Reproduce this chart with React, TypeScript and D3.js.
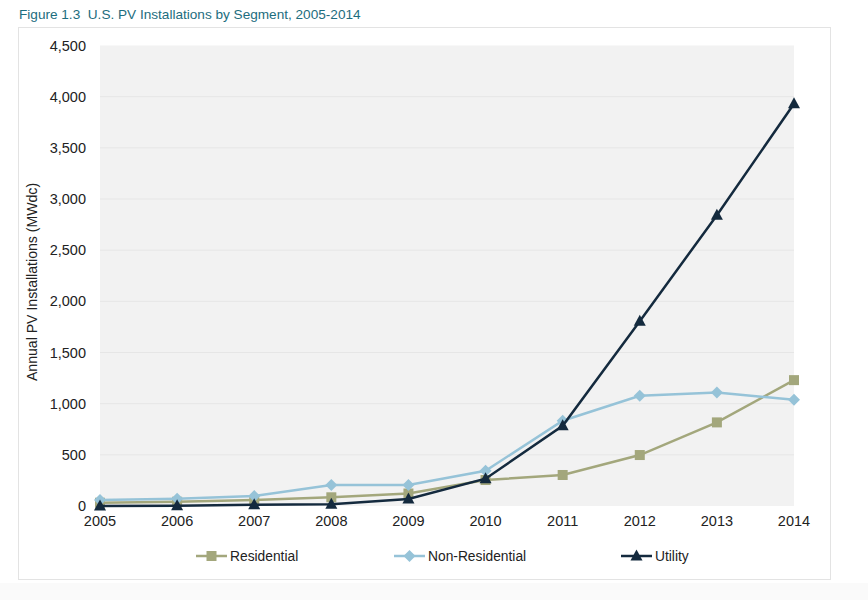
import React from "react";
import * as d3 from "d3";

const years = [2005, 2006, 2007, 2008, 2009, 2010, 2011, 2012, 2013, 2014];
const residential = [32, 42, 58, 85, 122, 254, 303, 498, 817, 1230];
const nonResidential = [58, 71, 98, 205, 205, 345, 833, 1077, 1110, 1038];
const utility = [1, 3, 12, 18, 68, 267, 784, 1805, 2842, 3930];
const yTicks = [0, 500, 1000, 1500, 2000, 2500, 3000, 3500, 4000, 4500];
const seriesNames = ["Residential", "Non-Residential", "Utility"];
const seriesColors = ["#a3a77c", "#96c3d8", "#142a3e"];
const seriesShapes = ["square", "diamond", "triangle"];

const W = 868;
const H = 600;
const font = "'Liberation Sans', Arial, sans-serif";

export default function App() {
  const x = d3.scalePoint<number>().domain(years).range([100, 794]);
  const y = d3.scaleLinear().domain([0, 4500]).range([506, 45.5]);
  const seriesData = [residential, nonResidential, utility];
  const line = d3
    .line<number>()
    .x((_, i) => x(years[i]) as number)
    .y((d) => y(d));
  const fmt = d3.format(",");

  const marker = (shape: string, cx: number, cy: number, color: string, key: string) => {
    if (shape === "square") {
      return <rect key={key} x={cx - 5} y={cy - 5} width={10} height={10} fill={color} />;
    }
    if (shape === "diamond") {
      const t = `M${cx},${cy - 6} L${cx + 6},${cy} L${cx},${cy + 6} L${cx - 6},${cy} Z`;
      return <path key={key} d={t} fill={color} />;
    }
    const t = `M${cx},${cy - 6.5} L${cx + 6},${cy + 4.5} L${cx - 6},${cy + 4.5} Z`;
    return <path key={key} d={t} fill={color} />;
  };

  const legendX = [196, 394, 621];
  const legendY = 556;

  return (
    <svg
      width={W}
      height={H}
      style={{ position: "absolute", left: 0, top: 0, display: "block", background: "#ffffff" }}
      fontFamily={font}
    >
      <rect x={0} y={583} width={W} height={17} fill="#fafafa" />
      <text x={19} y={19} fontSize={13.6} fill="#1d6d7e">
        Figure 1.3{"\u00a0\u00a0"}U.S. PV Installations by Segment, 2005-2014
      </text>
      <rect x={18.5} y={27.5} width={812} height={552} fill="#ffffff" stroke="#e3e3e3" strokeWidth={1} />
      <rect x={100} y={45.5} width={694} height={460.5} fill="#f2f2f2" />
      {yTicks.map((t) => (
        <g key={t}>
          {t > 0 && t < 4500 && (
            <line x1={100} x2={794} y1={y(t)} y2={y(t)} stroke="#e6e6e6" strokeWidth={1} />
          )}
          <text x={86} y={y(t)} dy="0.35em" textAnchor="end" fontSize={14.5} fill="#222">
            {fmt(t)}
          </text>
        </g>
      ))}
      {years.map((yr) => (
        <text key={yr} x={x(yr)} y={526} textAnchor="middle" fontSize={14.5} fill="#222">
          {yr}
        </text>
      ))}
      <text
        transform={`translate(37,${282}) rotate(-90)`}
        textAnchor="middle"
        fontSize={14.1}
        fill="#222"
      >
        Annual PV Installations (MWdc)
      </text>
      {seriesData.map((s, si) => (
        <g key={si}>
          <path d={line(s) || ""} fill="none" stroke={seriesColors[si]} strokeWidth={2.5} />
          {s.map((v, i) =>
            marker(seriesShapes[si], x(years[i]) as number, y(v), seriesColors[si], `${si}-${i}`)
          )}
        </g>
      ))}
      {seriesNames.map((n, si) => (
        <g key={n}>
          <line
            x1={legendX[si]}
            x2={legendX[si] + 31}
            y1={legendY}
            y2={legendY}
            stroke={seriesColors[si]}
            strokeWidth={2.5}
          />
          {marker(seriesShapes[si], legendX[si] + 15.5, legendY, seriesColors[si], `l${si}`)}
          <text x={legendX[si] + 34} y={legendY} dy="0.35em" fontSize={13.8} fill="#222">
            {n}
          </text>
        </g>
      ))}
    </svg>
  );
}
